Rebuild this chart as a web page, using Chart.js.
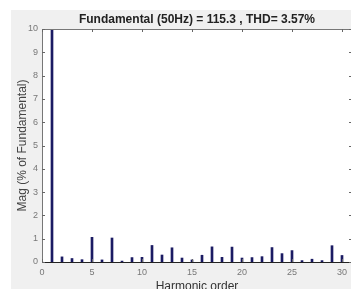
<!DOCTYPE html>
<html>
<head>
<meta charset="utf-8">
<script src="https://cdn.jsdelivr.net/npm/chart.js@4/dist/chart.umd.min.js"></script>
<style>
html,body{margin:0;padding:0;background:#fff;overflow:hidden;width:351px;height:289px;}
#wrap{position:absolute;left:0;top:0;width:362px;height:289px;}
</style>
</head>
<body>
<div id="wrap"><canvas id="c" width="362" height="289"></canvas></div>
<script>
const titleText = "Fundamental (50Hz) = 115.3 , THD= 3.57%";
const xTitle = "Harmonic order";
const yTitle = "Mag (% of Fundamental)";
const harmonics = [0,1,2,3,4,5,6,7,8,9,10,11,12,13,14,15,16,17,18,19,20,21,22,23,24,25,26,27,28,29,30];
const magnitudes = [0,100,0.22,0.15,0.10,1.06,0.09,1.03,0.04,0.19,0.20,0.71,0.30,0.61,0.17,0.09,0.29,0.65,0.20,0.64,0.17,0.19,0.23,0.62,0.36,0.49,0.06,0.12,0.06,0.70,0.28];
const xTickValues = [0,5,10,15,20,25,30];
const yTickValues = [0,1,2,3,4,5,6,7,8,9,10];
const xMin = 0, xMax = 31;
const yMin = 0, yMax = 10;
const FONT = '"Liberation Sans", Arial, sans-serif';

const framePlugin = {
  id: 'frame',
  beforeDraw(chart) {
    const ctx = chart.ctx, a = chart.chartArea;
    ctx.save();
    ctx.fillStyle = '#f0f0f0';
    ctx.fillRect(11, 10, chart.width - 11, chart.height - 10);
    ctx.fillStyle = '#ffffff';
    ctx.fillRect(a.left, a.top, a.right - a.left, a.bottom - a.top);
    ctx.restore();
  },
  afterDraw(chart) {
    const ctx = chart.ctx, a = chart.chartArea;
    const xs = chart.scales.x, ys = chart.scales.y;
    ctx.save();
    ctx.strokeStyle = '#777';
    ctx.lineWidth = 1;
    ctx.beginPath();
    ctx.moveTo(a.left + 0.5, a.bottom); ctx.lineTo(a.left + 0.5, a.top + 0.5);
    ctx.lineTo(a.right, a.top + 0.5);
    ctx.lineTo(a.right - 0.5, a.bottom);
    ctx.stroke();
    ctx.strokeStyle = '#222';
    ctx.beginPath();
    const by = Math.round(ys.getPixelForValue(0)) + 0.5;
    ctx.moveTo(a.left, by); ctx.lineTo(a.right, by);
    ctx.stroke();
    ctx.strokeStyle = '#666';
    ctx.beginPath();
    xs.ticks.forEach(t => {
      const px = Math.round(xs.getPixelForValue(t.value)) + 0.5;
      ctx.moveTo(px, a.top); ctx.lineTo(px, a.top + 3);
      ctx.moveTo(px, a.bottom); ctx.lineTo(px, a.bottom - 3);
    });
    ys.ticks.forEach(t => {
      const py = Math.round(ys.getPixelForValue(t.value)) + 0.5;
      ctx.moveTo(a.left, py); ctx.lineTo(a.left + 3, py);
      ctx.moveTo(a.right, py); ctx.lineTo(a.right - 3, py);
    });
    ctx.stroke();
    ctx.fillStyle = '#222';
    ctx.font = 'bold 12px ' + FONT;
    ctx.textAlign = 'center';
    ctx.textBaseline = 'middle';
    ctx.fillText(titleText, (a.left + a.right) / 2, 20);
    ctx.restore();
  }
};

new Chart(document.getElementById('c'), {
  type: 'bar',
  data: {
    datasets: [{
      data: harmonics.map((h, i) => ({x: h, y: magnitudes[i]})),
      backgroundColor: '#1b1b63',
      borderWidth: 0,
      barThickness: 2
    }]
  },
  options: {
    responsive: false,
    animation: false,
    devicePixelRatio: 1,
    layout: {padding: {left: 0, right: 10, top: 29, bottom: 0}},
    plugins: {legend: {display: false}, tooltip: {enabled: false}, title: {display: false}},
    scales: {
      x: {
        type: 'linear', min: xMin, max: xMax, offset: false,
        afterBuildTicks(s) { s.ticks = xTickValues.map(v => ({value: v})); },
        afterFit(s) { s.height = 27; },
        grid: {display: false, drawTicks: false},
        border: {display: false},
        ticks: {autoSkip: false, padding: 5, color: '#777', font: {size: 9, family: FONT}, maxRotation: 0},
        title: {display: true, text: xTitle, color: '#333', padding: {top: 0, bottom: -5}, font: {size: 12, family: FONT}}
      },
      y: {
        min: yMin, max: yMax,
        afterBuildTicks(s) { s.ticks = yTickValues.map(v => ({value: v})); },
        afterFit(s) { s.width = 42; },
        grid: {display: false, drawTicks: false},
        border: {display: false},
        ticks: {autoSkip: false, padding: 4, color: '#777', font: {size: 9, family: FONT}},
        title: {display: true, text: yTitle, color: '#444', padding: {top: 15, bottom: 0}, font: {size: 12, family: FONT}}
      }
    }
  },
  plugins: [framePlugin]
});
</script>
</body>
</html>
